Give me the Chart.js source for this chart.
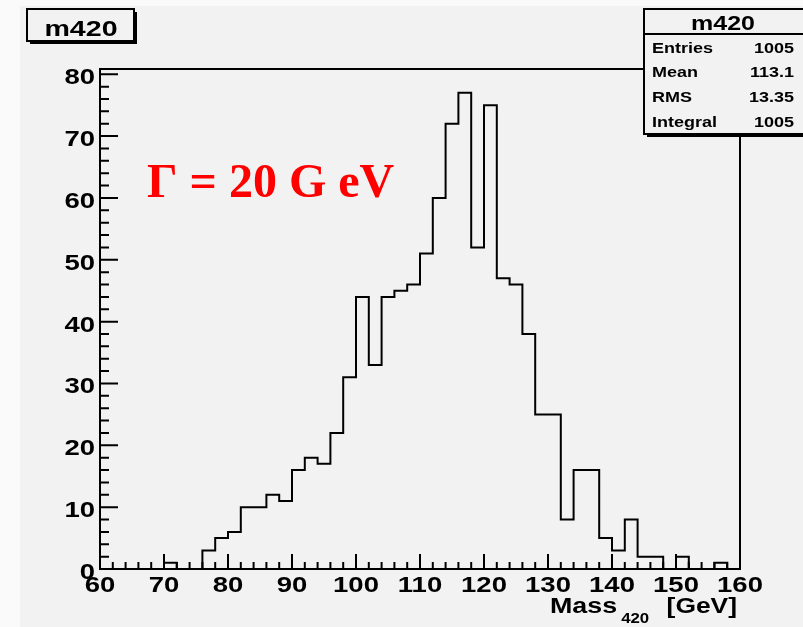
<!DOCTYPE html>
<html>
<head>
<meta charset="utf-8">
<script src="https://cdn.jsdelivr.net/npm/chart.js@4.4.1/dist/chart.umd.min.js"></script>
<style>
  html, body { margin: 0; padding: 0; background: #fafafa; }
  #wrap { width: 803px; height: 627px; }
</style>
</head>
<body>
<div id="wrap"><canvas id="hist" width="803" height="627"></canvas></div>
<script>
// histogram m420: 50 bins of 2 GeV from 60 to 160
const xMin = 60;
const xMax = 160;
const binWidth = 2;
const counts = [
    0, 0, 0, 0, 0, 1, 0, 0, 3, 5,          // 60 - 80
    6, 10, 10, 12, 11, 16, 18, 17, 22, 31, // 80 - 100
    44, 33, 44, 45, 46, 51, 60, 72, 77, 52, // 100 - 120
    75, 47, 46, 38, 25, 25, 8, 16, 16, 5,   // 120 - 140
    3, 8, 2, 2, 0, 2, 0, 0, 1, 0            // 140 - 160
];
const xTickLabels = ['60', '70', '80', '90', '100', '110', '120', '130', '140', '150', '160'];
const yTickLabels = ['0', '10', '20', '30', '40', '50', '60', '70', '80'];
const yMax = 80.85;
const minorStep = 2;

const statNames = ['Entries', 'Mean', 'RMS', 'Integral'];
const statValues = ['1005', '113.1', '13.35', '1005'];

// outline points at bin edges (stepped line)
const outline = counts.map((c, i) => ({ x: xMin + i * binWidth, y: c }));
outline.push({ x: xMax, y: counts[counts.length - 1] });

const SANS = '"Liberation Sans", Arial, sans-serif';

// ROOT's helvetica-bold looks wide, so stretch it a bit
function wideText(ctx, text, x, y, size, align, stretch) {
    const sx = stretch || 1.25;
    ctx.save();
    ctx.font = 'bold ' + size + 'px ' + SANS;
    const w = ctx.measureText(text).width * sx;
    let left = x;
    if (align === 'center') left = x - w / 2;
    else if (align === 'right') left = x - w;
    ctx.translate(left, y);
    ctx.scale(sx, 1);
    ctx.textAlign = 'left';
    ctx.fillText(text, 0, 0);
    ctx.restore();
    return w;
}

const rootStyle = {
    id: 'rootStyle',
    beforeDraw(chart) {
        const ctx = chart.ctx;
        ctx.save();
        ctx.fillStyle = '#fafafa';
        ctx.fillRect(0, 0, chart.width, chart.height);
        ctx.fillStyle = '#f2f2f2';
        ctx.fillRect(20, 6, chart.width - 20, chart.height - 6);
        ctx.restore();
    },
    afterDatasetsDraw(chart) {
        const ctx = chart.ctx;
        const area = chart.chartArea;
        const xs = chart.scales.x;
        const ys = chart.scales.y;
        ctx.save();
        ctx.strokeStyle = '#000';
        ctx.lineWidth = 2;
        ctx.strokeRect(area.left, area.top, area.right - area.left, area.bottom - area.top);

        // x ticks (inward, from bottom)
        ctx.beginPath();
        for (let v = xMin; v <= xMax; v += minorStep) {
            const px = xs.getPixelForValue(v);
            const len = (v % 10 === 0) ? 15 : 7;
            ctx.moveTo(px, area.bottom);
            ctx.lineTo(px, area.bottom - len);
        }
        // y ticks (inward, from left)
        for (let v = 0; v <= 80; v += minorStep) {
            const py = ys.getPixelForValue(v);
            const len = (v % 10 === 0) ? 18 : 9;
            ctx.moveTo(area.left, py);
            ctx.lineTo(area.left + len, py);
        }
        ctx.stroke();

        ctx.fillStyle = '#000';
        ctx.textBaseline = 'alphabetic';
        xTickLabels.forEach(t => {
            wideText(ctx, t, xs.getPixelForValue(Number(t)), 592, 22, 'center');
        });
        yTickLabels.forEach(t => {
            wideText(ctx, t, 95, ys.getPixelForValue(Number(t)) + 10, 22, 'right');
        });

        // axis title Mass_420 [GeV]
        const wm = wideText(ctx, 'Mass', 550, 613, 22, 'left', 1.22);
        wideText(ctx, '420', 550 + wm + 4, 623, 14, 'left', 1.2);
        wideText(ctx, '[GeV]', 737, 613, 22, 'right', 1.2);

        // red label
        ctx.fillStyle = '#ff0000';
        ctx.textAlign = 'left';
        ctx.font = 'bold 48px "Liberation Serif", "Times New Roman", serif';
        ctx.fillText('\u0393 = 20 G eV', 147, 197);
        ctx.restore();
    },
    afterDraw(chart) {
        const ctx = chart.ctx;
        ctx.save();
        ctx.textBaseline = 'alphabetic';
        // title box with shadow
        ctx.fillStyle = '#000';
        ctx.fillRect(30, 12, 107, 32);
        ctx.fillStyle = '#f2f2f2';
        ctx.fillRect(27, 9, 107, 32);
        ctx.strokeStyle = '#000';
        ctx.lineWidth = 2;
        ctx.strokeRect(27, 9, 107, 32);
        ctx.fillStyle = '#000';
        wideText(ctx, 'm420', 81, 36, 22, 'center', 1.3);

        // stats box
        ctx.fillStyle = '#000';
        ctx.fillRect(647, 12, 160, 125);
        ctx.fillStyle = '#f2f2f2';
        ctx.fillRect(644, 9, 165, 125);
        ctx.strokeRect(644, 9, 165, 125);
        ctx.beginPath();
        ctx.moveTo(644, 34);
        ctx.lineTo(803, 34);
        ctx.stroke();
        ctx.fillStyle = '#000';
        wideText(ctx, 'm420', 723, 30, 20, 'center', 1.25);
        const rowY = [53, 77, 102, 127];
        statNames.forEach((n, i) => {
            wideText(ctx, n, 652, rowY[i], 15, 'left', 1.2);
            wideText(ctx, statValues[i], 794, rowY[i], 15, 'right', 1.2);
        });
        ctx.restore();
    }
};

new Chart(document.getElementById('hist').getContext('2d'), {
    type: 'line',
    data: {
        datasets: [{
            data: outline,
            stepped: 'before',
            borderColor: '#000',
            borderWidth: 2,
            pointRadius: 0,
            fill: false
        }]
    },
    options: {
        responsive: false,
        animation: false,
        layout: { padding: { left: 100, right: 63, top: 69, bottom: 58 } },
        scales: {
            x: { type: 'linear', min: xMin, max: xMax, display: false },
            y: { min: 0, max: yMax, display: false }
        },
        plugins: {
            legend: { display: false },
            tooltip: { enabled: false }
        }
    },
    plugins: [rootStyle]
});
</script>
</body>
</html>
